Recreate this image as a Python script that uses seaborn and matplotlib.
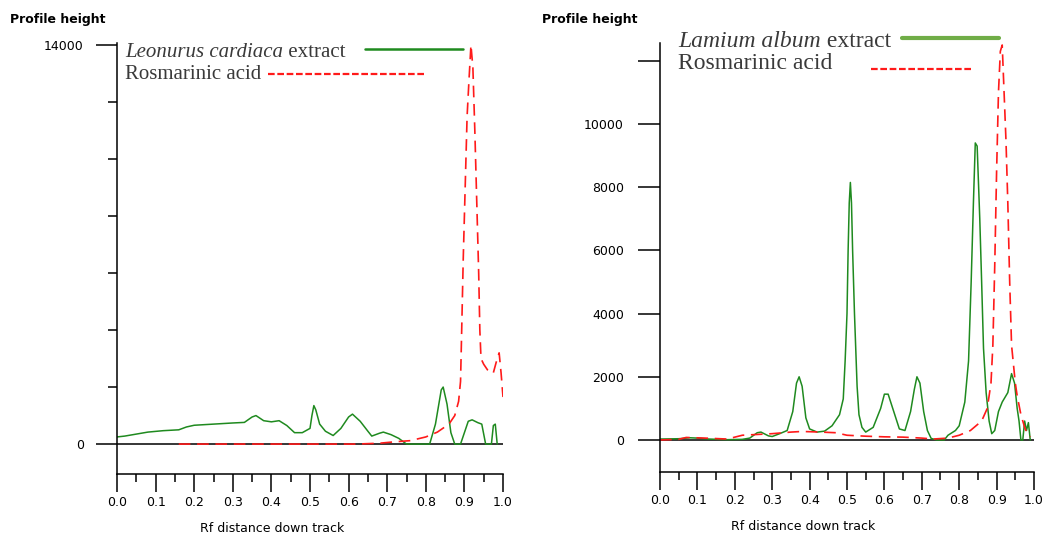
import numpy as np
import pandas as pd
import matplotlib
matplotlib.use("Agg")
import matplotlib.pyplot as plt
import seaborn as sns
from matplotlib.lines import Line2D
from matplotlib.ticker import MultipleLocator

# Leonurus cardiaca extract (left panel)
lc_rf = [0.00, 0.02, 0.05, 0.08, 0.12, 0.16, 0.18, 0.20, 0.25, 0.30, 0.33, 0.35, 0.36, 0.38, 0.40,
         0.42, 0.44, 0.46, 0.48, 0.50, 0.505, 0.51, 0.515, 0.525, 0.54, 0.56, 0.58, 0.60, 0.61, 0.63,
         0.65, 0.66, 0.68, 0.69, 0.71, 0.73, 0.75, 0.81, 0.825, 0.84, 0.845, 0.855, 0.865, 0.875,
         0.89, 0.91, 0.92, 0.935, 0.945, 0.955, 0.97, 0.975, 0.98, 0.985]
lc_h = [250, 280, 350, 420, 470, 500, 600, 660, 700, 740, 760, 950, 1000, 820, 780,
        820, 650, 400, 400, 550, 1000, 1350, 1200, 700, 450, 300, 550, 950, 1050, 800,
        450, 280, 380, 420, 330, 200, 0, 0, 700, 1900, 2000, 1400, 400, 0,
        0, 800, 850, 750, 700, 0, 0, 650, 700, 0]

# Rosmarinic acid standard (left panel)
ra1_rf = [0.16, 0.37, 0.62, 0.68, 0.72, 0.76, 0.80, 0.83, 0.86, 0.875, 0.885, 0.89, 0.893, 0.897,
          0.902, 0.907, 0.912, 0.917, 0.922, 0.927, 0.932, 0.937, 0.94, 0.943, 0.95, 0.96, 0.968,
          0.975, 0.985, 0.99, 0.995, 1.0]
ra1_h = [0, 0, 0, 30, 80, 120, 250, 420, 700, 1000, 1500, 2200, 4000, 6500,
         9000, 11500, 12800, 14000, 13200, 11000, 8500, 6000, 4000, 3000, 2800, 2600, 2500,
         2500, 3000, 3200, 2500, 1650]

# Lamium album extract (right panel)
la_rf = [0.00, 0.05, 0.08, 0.10, 0.13, 0.18, 0.22, 0.24, 0.26, 0.27, 0.29, 0.30, 0.32, 0.34, 0.355,
         0.365, 0.372, 0.38, 0.39, 0.40, 0.42, 0.44, 0.46, 0.48, 0.49, 0.495, 0.50, 0.503, 0.506,
         0.509, 0.512, 0.515, 0.52, 0.527, 0.532, 0.54, 0.55, 0.57, 0.59, 0.60, 0.61, 0.625, 0.64,
         0.655, 0.67, 0.68, 0.687, 0.695, 0.705, 0.715, 0.725, 0.74, 0.76, 0.77, 0.79, 0.80, 0.815,
         0.825, 0.832, 0.838, 0.843, 0.848, 0.855, 0.86, 0.865, 0.872, 0.88, 0.887, 0.895, 0.905,
         0.915, 0.93, 0.94, 0.948, 0.955, 0.96, 0.965, 0.97, 0.975, 0.98, 0.985, 0.99]
la_h = [30, 40, 70, 60, 30, 10, 20, 60, 230, 250, 130, 110, 200, 300, 900,
        1800, 2000, 1700, 700, 350, 250, 280, 450, 800, 1300, 2500, 4000, 6000, 7500,
        8150, 7500, 6000, 4000, 1700, 800, 400, 250, 400, 1000, 1450, 1450, 900, 350,
        300, 900, 1600, 2000, 1800, 900, 300, 50, 0, 0, 150, 300, 450, 1200,
        2500, 5000, 7500, 9400, 9300, 7000, 5000, 2900, 1500, 600, 200, 300, 900,
        1200, 1500, 2100, 1800, 1000, 600, 0, 0, 600, 300, 550, 0]

# Rosmarinic acid standard (right panel)
ra2_rf = [0.00, 0.05, 0.07, 0.12, 0.18, 0.22, 0.30, 0.35, 0.38, 0.43, 0.47, 0.50, 0.55, 0.60,
          0.65, 0.70, 0.73, 0.77, 0.80, 0.83, 0.86, 0.875, 0.885, 0.89, 0.895, 0.90, 0.905, 0.91,
          0.915, 0.92, 0.925, 0.93, 0.935, 0.94, 0.95, 0.955, 0.965, 0.975, 0.98, 0.99]
ra2_h = [0, 20, 80, 60, 30, 150, 200, 250, 270, 250, 230, 150, 120, 100,
         90, 60, 30, 60, 150, 300, 600, 1000, 1800, 3000, 5500, 8500, 11000, 12300,
         12500, 11000, 9500, 7500, 5000, 3000, 1800, 1400, 800, 400, 250, 100]

x_ticks = [0.0, 0.1, 0.2, 0.3, 0.4, 0.5, 0.6, 0.7, 0.8, 0.9, 1.0]
x_label = "Rf distance down track"
y_label = "Profile height"

sns.set_style("white")
plt.rcParams["font.family"] = ["DejaVu Sans"]
plt.rcParams["text.color"] = "black"
plt.rcParams["xtick.color"] = "black"
plt.rcParams["ytick.color"] = "black"

GREEN = "#1f8a1f"
RED = "#ff1a1a"

fig = plt.figure(figsize=(10.46, 5.37), dpi=100)
ax1 = fig.add_axes([117 / 1046, 1 - 474 / 537, 386 / 1046, 431 / 537])
ax2 = fig.add_axes([660 / 1046, 1 - 472 / 537, 374 / 1046, 429 / 537])


def draw_panel(ax, ex_x, ex_y, ra_x, ra_y):
    sns.lineplot(x=ex_x, y=ex_y, ax=ax, color=GREEN, lw=1.1, sort=False, estimator=None)
    sns.lineplot(x=ra_x, y=ra_y, ax=ax, color=RED, lw=1.2, sort=False, estimator=None,
                 linestyle=(0, (7, 4)))
    ax.axhline(0, color="black", lw=1.1, zorder=1)
    ax.set_xlim(0, 1)
    ax.set_xticks(x_ticks)
    ax.set_xticklabels([f"{t:.1f}" for t in x_ticks])
    ax.xaxis.set_minor_locator(MultipleLocator(0.05))
    for s in ["top", "right"]:
        ax.spines[s].set_visible(False)
    for s in ["left", "bottom"]:
        ax.spines[s].set_linewidth(1.1)
        ax.spines[s].set_color("black")
    ax.tick_params(axis="x", which="major", direction="out", length=13, width=1.1, pad=3,
                   labelsize=9, bottom=True)
    ax.tick_params(axis="x", which="minor", direction="out", length=6, width=1.1, bottom=True)
    ax.set_xlabel("")
    ax.set_ylabel("")


draw_panel(ax1, lc_rf, lc_h, ra1_rf, ra1_h)
ax1.set_ylim(-1050, 14070)
ax1.set_yticks([0, 14000])
ax1.set_yticklabels(["0", "14000"])
ax1.set_yticks([2000, 4000, 6000, 8000, 10000, 12000], minor=True)
ax1.tick_params(axis="y", which="major", direction="out", length=15, width=1.1, pad=9,
                labelsize=9, left=True)
ax1.tick_params(axis="y", which="minor", direction="out", length=6.5, width=1.1, left=True)

draw_panel(ax2, la_rf, la_h, ra2_rf, ra2_h)
ax2.set_ylim(-1013, 12563)
ax2.set_yticks([0, 2000, 4000, 6000, 8000, 10000, 12000])
ax2.set_yticklabels(["0", "2000", "4000", "6000", "8000", "10000", ""])
ax2.tick_params(axis="y", which="major", direction="out", length=16, width=1.1, pad=10,
                labelsize=9, left=True)

# axis titles
fig.text(10 / 1046, 1 - 20 / 537, y_label, fontsize=9, fontweight="bold", va="center", ha="left")
fig.text(542 / 1046, 1 - 20 / 537, y_label, fontsize=9, fontweight="bold", va="center", ha="left")
fig.text(272 / 1046, 1 - 529 / 537, x_label, fontsize=9, va="center", ha="center")
fig.text(803 / 1046, 1 - 527 / 537, x_label, fontsize=9, va="center", ha="center")

# hand-drawn legends
serif = ["Liberation Serif", "DejaVu Serif"]
LEG_C = "#3a3a3a"


def legend_entry(x, y, italic, plain, size):
    if italic:
        t = fig.text(x, y, italic, family=serif, style="italic", fontsize=size, color=LEG_C,
                     va="baseline", ha="left")
        fig.add_artist(plt.Annotation(" " + plain, xy=(1, 0), xycoords=t, va="bottom",
                                      ha="left", family=serif, fontsize=size, color=LEG_C))
    else:
        fig.text(x, y, plain, family=serif, fontsize=size, color=LEG_C, va="baseline", ha="left")


legend_entry(125 / 1046, 1 - 57 / 537, "Leonurus cardiaca", "extract", 15)
legend_entry(125 / 1046, 1 - 79 / 537, None, "Rosmarinic acid", 15)
legend_entry(678 / 1046, 1 - 47 / 537, "Lamium album", "extract", 17)
legend_entry(678 / 1046, 1 - 69 / 537, None, "Rosmarinic acid", 17)

fig.add_artist(Line2D([365 / 1046, 463 / 1046], [1 - 49 / 537, 1 - 49 / 537],
                      transform=fig.transFigure, color=GREEN, lw=1.8))
fig.add_artist(Line2D([268 / 1046, 426 / 1046], [1 - 74 / 537, 1 - 74 / 537],
                      transform=fig.transFigure, color=RED, lw=1.6, linestyle=(0, (3, 1.2))))
fig.add_artist(Line2D([902 / 1046, 999 / 1046], [1 - 38 / 537, 1 - 38 / 537],
                      transform=fig.transFigure, color="#70ad47", lw=3))
fig.add_artist(Line2D([871 / 1046, 972 / 1046], [1 - 69 / 537, 1 - 69 / 537],
                      transform=fig.transFigure, color=RED, lw=1.6, linestyle=(0, (3, 1.2))))

fig.savefig("out.png", dpi=100)
